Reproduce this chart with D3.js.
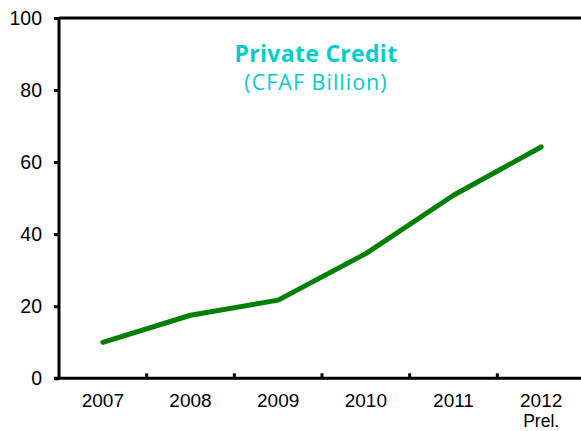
<!DOCTYPE html>
<html>
<head>
<meta charset="utf-8">
<script src="https://cdn.jsdelivr.net/npm/d3@7"></script>
<style>
  html, body { margin: 0; padding: 0; background: #fff; }
  svg { display: block; }
</style>
</head>
<body>
<svg id="chart" width="581" height="431"></svg>
<script>
// Private credit, CFAF billion
const years = ["2007", "2008", "2009", "2010", "2011", "2012"];
const yearNotes = ["", "", "", "", "", "Prel."];
const credit = [10.0, 17.5, 21.7, 34.6, 50.8, 64.2];
const yTicks = [0, 20, 40, 60, 80, 100];

const W = 581, H = 431;
const margin = { left: 59, top: 18, right: -4, bottom: 52.7 };
const svg = d3.select("#chart");

const x = d3.scaleBand()
  .domain(years)
  .range([margin.left, W - margin.right])
  .paddingInner(0).paddingOuter(0);

const y = d3.scaleLinear()
  .domain([0, 100])
  .range([H - margin.bottom, margin.top]);

const axisColor = "#000";
const fontFam = "Liberation Sans, Arial, sans-serif";
const tickFont = 19.5;
const yearFont = 19;
const noteFont = 17.5;

// top frame line
svg.append("line")
  .attr("x1", margin.left).attr("x2", W)
  .attr("y1", y(100)).attr("y2", y(100))
  .attr("stroke", axisColor).attr("stroke-width", 3);

// y axis
const yAxis = svg.append("g")
  .attr("transform", `translate(${margin.left},0)`)
  .call(d3.axisLeft(y).tickValues(yTicks).tickSize(5).tickPadding(12));
yAxis.select(".domain").attr("stroke", axisColor).attr("stroke-width", 3)
  .attr("d", `M0,${y(0)}V${y(100)}`);
yAxis.selectAll(".tick line").attr("stroke", axisColor).attr("stroke-width", 3);
yAxis.selectAll(".tick text")
  .attr("font-family", fontFam).attr("font-size", tickFont).attr("fill", "#000");

// x axis: ticks sit between categories, pointing inward
const xAxisG = svg.append("g")
  .attr("transform", `translate(0,${y(0)})`);
xAxisG.append("line")
  .attr("x1", margin.left - 5).attr("x2", W)
  .attr("y1", 0).attr("y2", 0)
  .attr("stroke", axisColor).attr("stroke-width", 3);
xAxisG.selectAll("line.sep")
  .data(years.slice(1))
  .join("line")
  .attr("class", "sep")
  .attr("x1", d => x(d)).attr("x2", d => x(d))
  .attr("y1", 0).attr("y2", -5)
  .attr("stroke", axisColor).attr("stroke-width", 3);
xAxisG.selectAll("text.year")
  .data(years)
  .join("text")
  .attr("class", "year")
  .attr("x", d => x(d) + x.bandwidth() / 2)
  .attr("y", 28.7)
  .attr("text-anchor", "middle")
  .attr("font-family", fontFam).attr("font-size", yearFont)
  .text(d => d);
xAxisG.selectAll("text.note")
  .data(years.map((d, i) => ({ year: d, note: yearNotes[i] })).filter(d => d.note))
  .join("text")
  .attr("class", "note")
  .attr("x", d => x(d.year) + x.bandwidth() / 2)
  .attr("y", 48.7)
  .attr("text-anchor", "middle")
  .attr("font-family", fontFam).attr("font-size", noteFont)
  .text(d => d.note);

// series line
const line = d3.line()
  .x((d, i) => x(years[i]) + x.bandwidth() / 2)
  .y(d => y(d));
svg.append("path")
  .datum(credit)
  .attr("d", line)
  .attr("fill", "none")
  .attr("stroke", "#008000")
  .attr("stroke-width", 5)
  .attr("stroke-linecap", "round")
  .attr("stroke-linejoin", "round");

// title
svg.append("text")
  .attr("x", 316).attr("y", 61.5)
  .attr("text-anchor", "middle")
  .attr("font-family", "Open Sans, Noto Sans, sans-serif")
  .attr("font-weight", "bold").attr("font-size", 23)
  .attr("letter-spacing", 0.3)
  .attr("fill", "#00CCCC")
  .text("Private Credit");
svg.append("text")
  .attr("x", 316).attr("y", 90)
  .attr("text-anchor", "middle")
  .attr("font-family", "Open Sans, Noto Sans, sans-serif")
  .attr("font-size", 21.5)
  .attr("letter-spacing", 1)
  .attr("fill", "#00CCCC")
  .text("(CFAF Billion)");
</script>
</body>
</html>
